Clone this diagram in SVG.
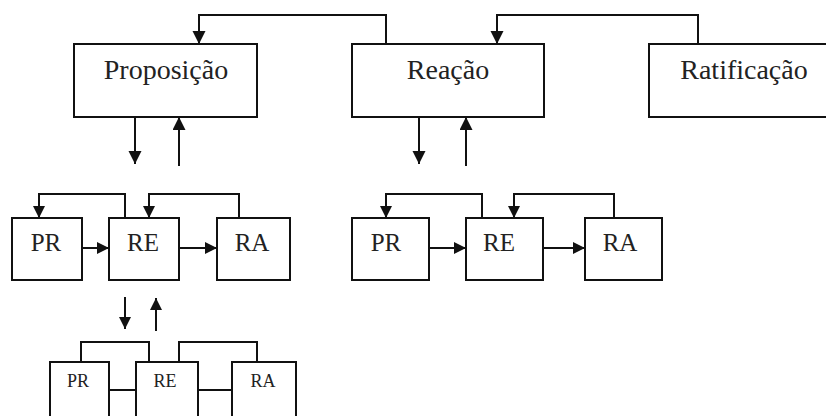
<svg xmlns="http://www.w3.org/2000/svg" width="826" height="416" viewBox="0 0 826 416">
<defs>
<style>
.box{fill:#fff;stroke:#111;stroke-width:2}
.ln{fill:none;stroke:#111;stroke-width:2}
.lnb{fill:none;stroke:#111;stroke-width:2}
.t{font-family:"Liberation Serif","Times New Roman",serif;fill:#222;text-anchor:middle}
.big{font-size:28px}
.mid{font-size:25px}
.sm{font-size:18px}
</style>
<marker id="ah" markerUnits="userSpaceOnUse" markerWidth="14" markerHeight="14" refX="13" refY="6.5" orient="auto" viewBox="0 0 14 14">
<path d="M0,0 L13,6.5 L0,13 z" fill="#111"/>
</marker>
<marker id="ahs" markerUnits="userSpaceOnUse" markerWidth="13" markerHeight="13" refX="12" refY="6" orient="auto" viewBox="0 0 13 13">
<path d="M0,0 L12,6 L0,12 z" fill="#111"/>
</marker>
</defs>
<rect width="826" height="416" fill="#fff"/>
<g id="connectors">
<path class="ln" d="M386,44 V15 H199 V44" marker-end="url(#ah)"/>
<path class="ln" d="M698,44 V15 H497 V44" marker-end="url(#ah)"/>
<path class="ln" d="M135,117 V164" marker-end="url(#ah)"/>
<path class="ln" d="M179,166 V117" marker-end="url(#ah)"/>
<path class="ln" d="M419,117 V164" marker-end="url(#ah)"/>
<path class="ln" d="M466,166 V117" marker-end="url(#ah)"/>
<path class="ln" d="M125,218 V194 H39 V218" marker-end="url(#ahs)"/>
<path class="ln" d="M239,218 V194 H149 V218" marker-end="url(#ahs)"/>
<path class="ln" d="M82,248 H109" marker-end="url(#ahs)"/>
<path class="ln" d="M179,248 H217" marker-end="url(#ahs)"/>
<path class="ln" d="M482,218 V194 H386 V218" marker-end="url(#ahs)"/>
<path class="ln" d="M614,218 V194 H514 V218" marker-end="url(#ahs)"/>
<path class="ln" d="M429,248 H466" marker-end="url(#ahs)"/>
<path class="ln" d="M543,248 H585" marker-end="url(#ahs)"/>
<path class="ln" d="M125,297 V329" marker-end="url(#ahs)"/>
<path class="ln" d="M156,331 V298" marker-end="url(#ahs)"/>
<path class="ln" d="M81,362 V342 H149 V362"/>
<path class="ln" d="M179,362 V342 H257 V362"/>
<path class="ln" d="M109,390 H136"/>
<path class="ln" d="M198,390 H232"/>
</g>
<g id="proposicao"><rect class="box" x="74" y="44" width="183" height="73"/><text class="t big" x="166" y="79">Proposição</text></g>
<g id="reacao"><rect class="box" x="352" y="44" width="192" height="73"/><text class="t big" x="448" y="79">Reação</text></g>
<g id="ratificacao"><rect class="box" x="649" y="44" width="190" height="73"/><text class="t big" x="744" y="79">Ratificação</text></g>
<g id="pr1"><rect class="box" x="12" y="218" width="70" height="62"/><text class="t mid" x="46" y="251">PR</text></g>
<g id="re1"><rect class="box" x="109" y="218" width="70" height="62"/><text class="t mid" x="143" y="251">RE</text></g>
<g id="ra1"><rect class="box" x="217" y="218" width="73" height="62"/><text class="t mid" x="252" y="251">RA</text></g>
<g id="pr2"><rect class="box" x="352" y="218" width="77" height="62"/><text class="t mid" x="386" y="251">PR</text></g>
<g id="re2"><rect class="box" x="466" y="218" width="77" height="62"/><text class="t mid" x="499" y="251">RE</text></g>
<g id="ra2"><rect class="box" x="585" y="218" width="77" height="62"/><text class="t mid" x="620" y="251">RA</text></g>
<g id="pr3"><rect class="box" x="50" y="362" width="59" height="70"/><text class="t sm" x="78" y="387">PR</text></g>
<g id="re3"><rect class="box" x="136" y="362" width="62" height="70"/><text class="t sm" x="165" y="387">RE</text></g>
<g id="ra3"><rect class="box" x="232" y="362" width="64" height="70"/><text class="t sm" x="263" y="387">RA</text></g>
</svg>
